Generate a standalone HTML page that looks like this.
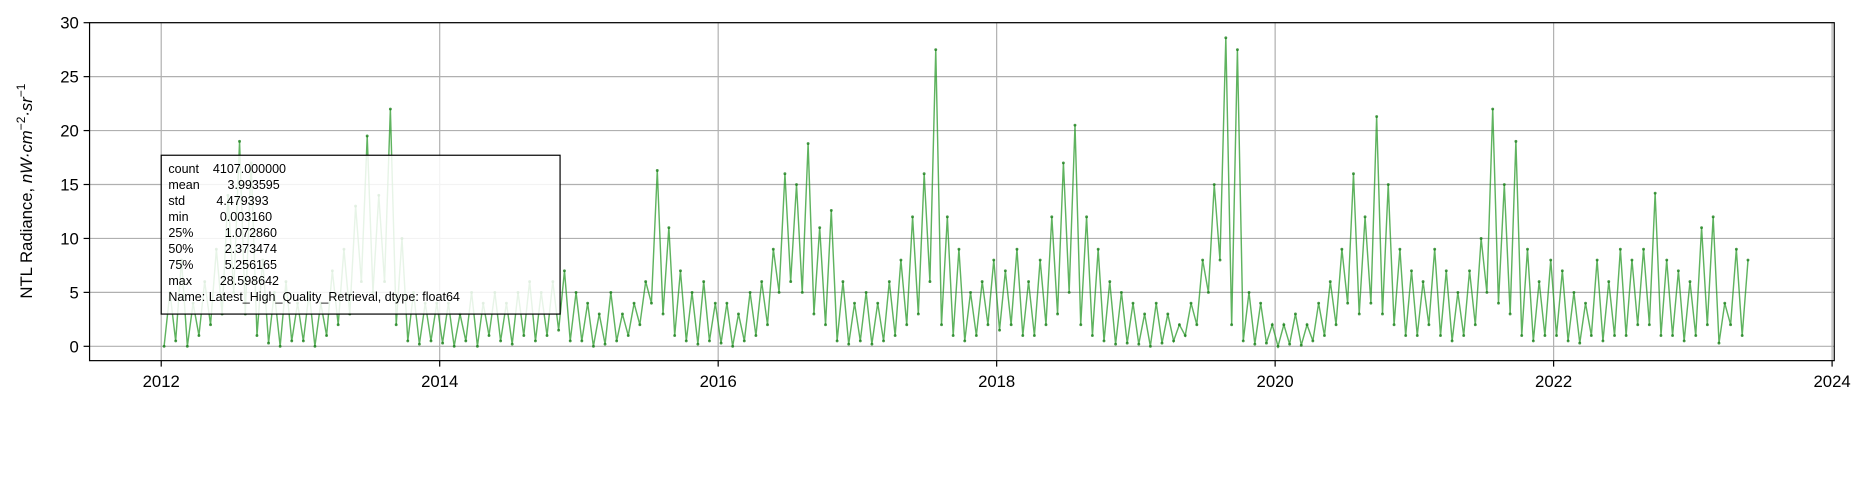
<!DOCTYPE html>
<html><head><meta charset="utf-8"><style>
html,body{margin:0;padding:0;background:#fff;overflow:hidden;}
svg{display:block;width:2238px;height:492px;font-family:"Liberation Sans","DejaVu Sans",sans-serif;}
</style></head><body>
<svg id="chart" viewBox="0 0 1873 412" preserveAspectRatio="xMinYMin meet"></svg>
<script>
const years=[2012,2013,2014,2015,2016,2017,2018,2019,2020,2021,2022,2023];
const peaks=[
[5,8,4,6,9,14,19,17,8,5,6,4],
[5,4,7,9,13,19.5,14,22,10,5,4,4],
[4,3,5,4,5,4,5,6,5,6,7,5],
[4,3,5,3,4,6,16.3,11,7,5,6,4],
[4,3,5,6,9,16,15,18.8,11,12.6,6,4],
[5,4,6,8,12,16,27.5,12,9,5,6,8],
[7,9,6,8,12,17,20.5,12,9,6,5,4],
[3,4,3,2,4,8,15,28.6,27.5,5,4,2],
[2,3,2,4,6,9,16,12,21.3,15,9,7],
[6,9,7,5,7,10,22,15,19,9,6,8],
[7,5,4,8,6,9,8,9,14.2,8,7,6],
[11,12,4,9,8]];
const troughs=[
[0,0.5,0,1,2,3,5,3,1,0.3,0,0.5],
[0.5,0,1,2,3,6,5,6,2,0.5,0.2,0.5],
[0.3,0,0.5,0,1,0.5,0.2,1,0.5,1,1.5,0.5],
[0.5,0,0.2,0.5,1,2,4,3,1,0.5,0.2,0.5],
[0.3,0,0.5,1,2,5,6,5,3,2,0.5,0.2],
[0.5,0.2,0.5,1,2,3,6,2,1,0.5,1,2],
[1.5,2,1,1,2,3,5,2,1,0.5,0.2,0.3],
[0.2,0,0.3,0.5,1,2,5,8,2,0.5,0.2,0.3],
[0,0.2,0.1,0.5,1,2,4,3,4,3,2,1],
[1,2,1,0.5,1,2,5,4,3,1,0.5,1],
[1,0.5,0.3,1,0.5,1,1,2,2,1,1,0.5],
[1,2,0.3,2,1]];
const xTicks=[2012,2014,2016,2018,2020,2022,2024];
const yTicks=[0,5,10,15,20,25,30];
const statsLines=["count    4107.000000","mean        3.993595","std         4.479393","min         0.003160","25%         1.072860","50%         2.373474","75%         5.256165","max        28.598642","Name: Latest_High_Quality_Retrieval, dtype: float64"];

const NS="http://www.w3.org/2000/svg";
const svg=document.getElementById('chart');
const L=75,R=1536,T=19,B=302;
const xs=v=>135+(v-2012)*116.6;
const ys=v=>290-v*9.033;
function mk(tag,attrs,parent){const e=document.createElementNS(NS,tag);for(const k in attrs)e.setAttribute(k,attrs[k]);(parent||svg).appendChild(e);return e;}

xTicks.forEach(t=>{const g=mk('line',{x1:xs(t),x2:xs(t),y1:T,y2:B,stroke:'#b0b0b0','stroke-width':1});

});
yTicks.forEach(t=>{const g=mk('line',{x1:L,x2:R,y1:ys(t),y2:ys(t),stroke:'#b0b0b0','stroke-width':1});

});

const pts=[];
years.forEach((y,i)=>{peaks[i].forEach((p,m)=>{
  pts.push([y+(m+0.25)/12,troughs[i][m]]);
  pts.push([y+(m+0.75)/12,p]);
});});
const d=pts.map((p,i)=>(i?'L':'M')+xs(p[0]).toFixed(1)+' '+ys(p[1]).toFixed(1)).join(' ');
const line=mk('path',{d:d,fill:'none',stroke:'#2a9a2a','stroke-width':1.2,'stroke-opacity':0.75});


pts.forEach(p=>{const c=mk('circle',{cx:xs(p[0]),cy:ys(p[1]),r:1.2,fill:'#1a7f1a','fill-opacity':0.8});

});

const fr=mk('rect',{x:L,y:T,width:R-L,height:B-T,fill:'none',stroke:'#000','stroke-width':1});


xTicks.forEach(t=>{mk('line',{x1:xs(t),x2:xs(t),y1:B,y2:B+5,stroke:'#000'});
const tx=mk('text',{x:xs(t),y:B+22,'text-anchor':'middle','font-size':14});tx.textContent=t;

});
yTicks.forEach(t=>{mk('line',{x1:L-5,x2:L,y1:ys(t),y2:ys(t),stroke:'#000'});
const tx=mk('text',{x:L-9,y:ys(t)+5,'text-anchor':'end','font-size':14});tx.textContent=t;

});

const yt=mk('text',{x:0,y:0,transform:'translate(27,160) rotate(-90)','text-anchor':'middle','font-size':14});


yt.innerHTML='NTL Radiance, <tspan font-style="italic">nW·cm</tspan><tspan font-size="10" dy="-6">−2</tspan><tspan dy="6" font-style="italic">·sr</tspan><tspan font-size="10" dy="-6">−1</tspan>';

const bx=mk('rect',{x:135,y:130,width:334,height:133,fill:'#fff','fill-opacity':0.85,stroke:'#000','stroke-width':1});


statsLines.forEach((s,i)=>{const tx=mk('text',{x:141,y:145+i*13.4,'font-size':10.5});
tx.setAttribute('style','white-space:pre');
tx.textContent=s;

});
</script>
</body></html>
